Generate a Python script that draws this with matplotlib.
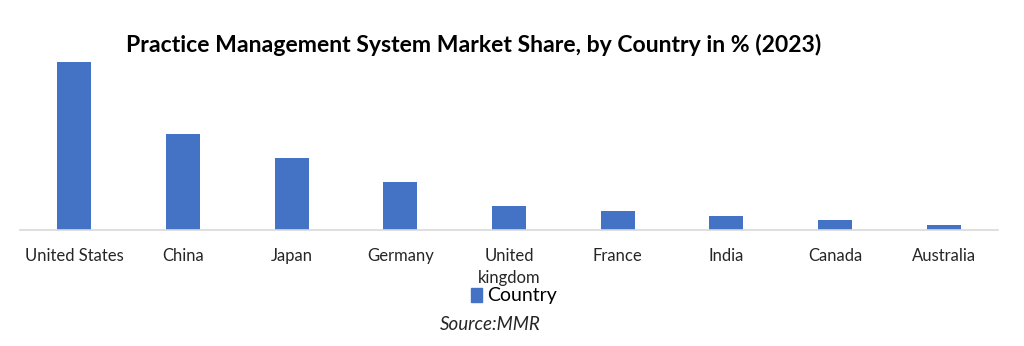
import matplotlib.pyplot as plt
from matplotlib.patches import Patch

countries = ["United States", "China", "Japan", "Germany", "United\nkingdom",
             "France", "India", "Canada", "Australia"]
share = [35, 20, 15, 10, 5, 4, 3, 2, 1]

bar_color = "#4472C4"
W, H = 1024, 346

plt.rcParams['font.family'] = ['Lato', 'DejaVu Sans']

fig = plt.figure(figsize=(W / 100, H / 100), dpi=100)
ax = fig.add_axes([20 / W, (H - 230) / H, 978 / W, 168 / H])

ax.bar(range(len(countries)), share, width=0.31, color=bar_color, label="Country")
ax.set_xlim(-0.5, len(countries) - 0.5)
ax.set_ylim(0, 35)

for side in ["top", "right", "left"]:
    ax.spines[side].set_visible(False)
ax.spines["bottom"].set_color("#d9d9d9")
ax.spines["bottom"].set_linewidth(1.2)
ax.set_yticks([])
ax.set_xticks(range(len(countries)))
ax.set_xticklabels(countries, fontsize=12, color="#262626", linespacing=1.45)
ax.tick_params(axis="x", length=0, pad=13)

fig.text(474 / W, 1 - 45 / H, "Practice Management System Market Share, by Country in % (2023)",
         ha="center", va="center", fontsize=16.6, fontweight="bold", color="black")

fig.legend(handles=[Patch(color=bar_color, label="Country")], loc="center",
           bbox_to_anchor=(514 / W, 1 - 296 / H), frameon=False, fontsize=14,
           handlelength=0.55, handleheight=0.75, handletextpad=0.3)

fig.text(490 / W, 1 - 324 / H, "Source:MMR", ha="center", va="center",
         fontsize=13.5, style="italic", color="#262626")

fig.savefig("out.png", dpi=100)
